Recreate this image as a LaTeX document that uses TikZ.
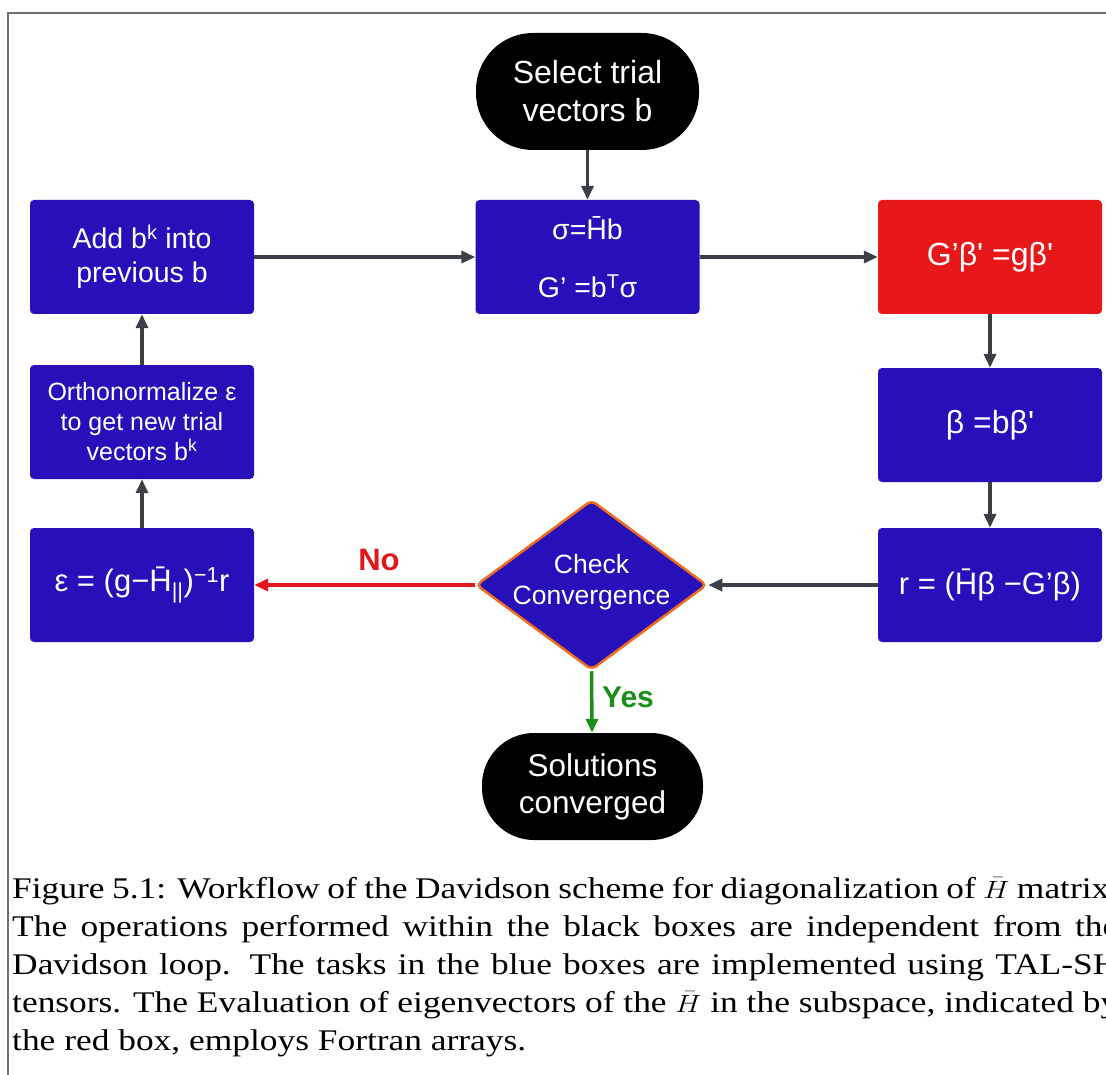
\documentclass[tikz,border=0pt]{standalone}
\usepackage{fontspec}
\setmainfont{Liberation Serif}
\newfontfamily\boxfont{Liberation Sans}
\usetikzlibrary{arrows.meta,shapes.geometric}
\definecolor{bblue}{HTML}{2510BA}
\definecolor{bred}{HTML}{E8171A}
\definecolor{arrgray}{HTML}{3B3F46}
\definecolor{noRed}{HTML}{E3161B}
\definecolor{yesGreen}{HTML}{1B8E1B}
\definecolor{dorange}{HTML}{F26B1D}
\definecolor{framec}{HTML}{707070}
\newcommand\fs[2]{\fontsize{#1pt}{#2pt}\selectfont}
\newcommand\capfont{\fontsize{30pt}{38pt}\selectfont}
\newlength\capwd
\newlength\capinnerlen
\begin{document}
\settowidth\capwd{\capfont the red box, employs Fortran arrays.}%
\pgfmathsetmacro\capsx{514/\the\capwd}%
\pgfmathsetlength\capinnerlen{1106/\capsx}%
\begin{tikzpicture}[x=1pt,y=-1pt,
  bx/.style={rectangle, fill=bblue, rounded corners=4pt, minimum width=224pt,
    minimum height=114pt, inner sep=0pt, text=white, align=center},
  term/.style={rectangle, fill=black, text=white, align=center, inner sep=0pt},
  arr/.style={-{Triangle[length=14pt,width=12pt]}, line width=3.5pt, draw=arrgray},
  capline/.style={anchor=base west, inner sep=0pt}]
\useasboundingbox (0,0) rectangle (1106,1075);
\clip (0,0) rectangle (1106,1075);
\draw[framec, line width=2pt] (8,1090) -- (8,13) -- (1120,13);

% terminals
\node[term, minimum width=223pt, minimum height=117pt, rounded corners=57pt,
  font={\boxfont\fs{32}{38}}] (start) at (587.5,91.5) {Select trial\\vectors b};
\node[term, minimum width=221pt, minimum height=107pt, rounded corners=52pt,
  font={\boxfont\fs{31.5}{37}}] (sol) at (592.5,786.5) {Solutions\\converged};

% boxes
\node[bx, font={\boxfont\fs{28.5}{58}}] (sig) at (587.5,257) {σ=H̄b\\G’ =b\textsuperscript{T}σ};
\node[bx, font={\boxfont\fs{28.5}{34}}] (add) at (142,257) {Add b\textsuperscript{k} into\\previous b};
\node[bx, fill=bred, font={\boxfont\fs{32}{35}}] (red) at (990,257) {G’β\textquotesingle{} =gβ\textquotesingle};
\node[bx, font={\boxfont\fs{32}{35}}] (beta) at (990,425) {β =bβ\textquotesingle};
\node[bx, font={\boxfont\fs{31}{35}}] (rr) at (990,585) {r = (H̄β −G’β)};
\node[bx, font={\boxfont\fs{31}{35}}] (eps) at (142,585) {ε = (g−H̄\textsubscript{||})\textsuperscript{−1}r};
\node[bx, font={\boxfont\fs{25}{30}}] (orth) at (142,422) {Orthonormalize ε\\to get new trial\\vectors b\textsuperscript{k}};

% decision
\node[diamond, fill=bblue, draw=dorange, line width=2.5pt, rounded corners=5pt,
  minimum width=231pt, minimum height=170pt, inner sep=0pt] (dia) at (591.5,585) {};
\node[text=white, align=center, inner sep=0pt, font={\boxfont\fs{26.5}{31}}] (chk) at (591.5,582) {Check\\Convergence};

% connectors
\draw[arr] (start) -- (sig);
\draw[arr] (add) -- (sig);
\draw[arr] (sig) -- (red);
\draw[arr] (red) -- (beta);
\draw[arr] (beta) -- (rr);
\draw[arr] (rr) -- (dia.east);
\draw[arr, draw=noRed] (dia.west) -- (eps);
\draw[arr] (eps) -- (orth);
\draw[arr] (orth) -- (add);
\draw[arr, draw=yesGreen] (dia.south) -- (sol);

\node[text=noRed, font={\boxfont\bfseries\fs{31}{35}}, inner sep=0pt] (no) at (379,560) {No};
\node[text=yesGreen, font={\boxfont\bfseries\fs{30}{35}}, inner sep=0pt] (yes) at (628,697) {Yes};

% caption
\node[capline] (c1) at (12,898) {\scalebox{\capsx}[1]{\makebox[\capinnerlen][s]{\capfont Figure 5.1: Workflow of the Davidson scheme for diagonalization of $\bar{H}$ matrix.}}};
\node[capline] (c2) at (12,936) {\scalebox{\capsx}[1]{\makebox[\capinnerlen][s]{\capfont The operations performed within the black boxes are independent from the}}};
\node[capline] (c3) at (12,974) {\scalebox{\capsx}[1]{\makebox[\capinnerlen][s]{\capfont Davidson loop.  The tasks in the blue boxes are implemented using TAL-SH}}};
\node[capline] (c4) at (12,1012) {\scalebox{\capsx}[1]{\makebox[\capinnerlen][s]{\capfont tensors. The Evaluation of eigenvectors of the $\bar{H}$ in the subspace, indicated by}}};
\node[capline] (c5) at (12,1050) {\scalebox{\capsx}[1]{\capfont the red box, employs Fortran arrays.}};
\end{tikzpicture}
\end{document}
